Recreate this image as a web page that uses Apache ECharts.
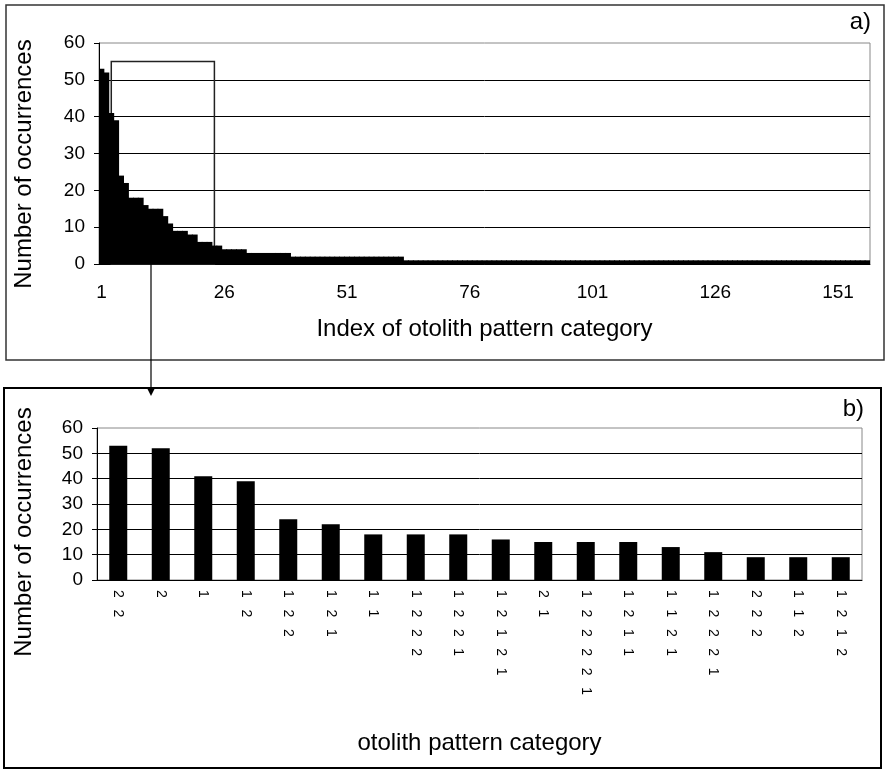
<!DOCTYPE html>
<html><head><meta charset="utf-8">
<script src="https://cdn.jsdelivr.net/npm/echarts@6/dist/echarts.min.js"></script>
<style>html,body{margin:0;padding:0;background:#fff}#c{width:885px;height:771px}</style>
</head><body><div id="c"></div>
<script>
// ---- data ----
const aIndexLabels = Array.from({length:157}, (_, i) => String(i + 1));
const aCounts = [
  53,52,41,39,24,22,18,18,18,16,15,15,15,13,11,9,9,9,8,8,
  6,6,6,5,5,4,4,4,4,4,
  3,3,3,3,3,3,3,3,3,
  2,2,2,2,2,2,2,2,2,2,2,2,2,2,2,2,2,2,2,2,2,2,2,
  1,1,1,1,1,1,1,1,1,1,1,1,1,1,1,1,1,1,1,1,
  1,1,1,1,1,1,1,1,1,1,1,1,1,1,1,1,1,1,1,1,
  1,1,1,1,1,1,1,1,1,1,1,1,1,1,1,1,1,1,1,1,
  1,1,1,1,1,1,1,1,1,1,1,1,1,1,1,1,1,1,1,1,
  1,1,1,1,1,1,1,1,1,1,1,1,1,1,1
];
const bCategories = ["2 2","2","1","1 2","1 2 2","1 2 1","1 1","1 2 2 2","1 2 2 1",
  "1 2 1 2 1","2 1","1 2 2 2 2 1","1 2 1 1","1 1 2 1","1 2 2 2 1","2 2 2","1 1 2","1 2 1 2"];
const bCounts = [53,52,41,39,24,22,18,18,18,16,15,15,15,13,11,9,9,9];
const yMin = 0, yMax = 60, yStep = 10;
// zoom box drawn in panel a): from category index 2 to 23, up to value 55
const boxFromIdx = 2, boxToIdx = 23, boxTop = 55;

const FONT = "'Liberation Sans', Arial, sans-serif";
const black = '#000';

function yAxisCfg(gi) {
  return {
    type: 'value', gridIndex: gi, min: yMin, max: yMax, interval: yStep,
    axisLine: {show: true, lineStyle: {color: black, width: 1}},
    axisTick: {show: true, length: 5, lineStyle: {color: black}},
    splitLine: {show: true, showMaxLine: false, lineStyle: {color: black, width: 1}},
    axisLabel: {color: black, fontSize: 19, fontFamily: FONT, margin: 14}
  };
}

const chart = echarts.init(document.getElementById('c'), null, {renderer: 'canvas'});
const baseGraphics = [
  {type: 'rect', shape: {x: 6, y: 5, width: 878, height: 355}, style: {fill: 'none', stroke: '#333', lineWidth: 1.5}, z: 0},
  {type: 'rect', shape: {x: 4, y: 388, width: 877, height: 380}, style: {fill: 'none', stroke: '#000', lineWidth: 2}, z: 0},
  {type: 'text', x: 871, y: 22, style: {text: 'a)', fontSize: 24, fontFamily: FONT, fill: black, textAlign: 'right', textVerticalAlign: 'middle'}},
  {type: 'text', x: 864, y: 409, style: {text: 'b)', fontSize: 24, fontFamily: FONT, fill: black, textAlign: 'right', textVerticalAlign: 'middle'}},
  {type: 'text', x: 24, y: 164, rotation: Math.PI / 2, style: {text: 'Number of occurrences', fontSize: 24, fontFamily: FONT, fill: black, textAlign: 'center', textVerticalAlign: 'middle'}},
  {type: 'text', x: 24, y: 532, rotation: Math.PI / 2, style: {text: 'Number of occurrences', fontSize: 24, fontFamily: FONT, fill: black, textAlign: 'center', textVerticalAlign: 'middle'}},
  {type: 'line', shape: {x1: 151, y1: 264, x2: 151, y2: 389}, style: {stroke: black, lineWidth: 1.2}, z: 10},
  {type: 'polygon', shape: {points: [[147, 388], [155, 388], [151, 396]]}, style: {fill: black}, z: 10}
];
chart.setOption({
  animation: false,
  backgroundColor: '#fff',
  textStyle: {fontFamily: FONT},
  grid: [
    {left: 99, top: 43, width: 771, height: 221, show: true, borderColor: '#888', borderWidth: 1, backgroundColor: '#fff'},
    {left: 97, top: 428, width: 765, height: 152, show: true, borderColor: '#888', borderWidth: 1, backgroundColor: '#fff'}
  ],
  xAxis: [
    {
      type: 'category', gridIndex: 0, data: aIndexLabels,
      axisLine: {lineStyle: {color: black}},
      axisTick: {interval: 24, length: 5, lineStyle: {color: black}},
      axisLabel: {interval: 24, color: black, fontSize: 19, fontFamily: FONT, margin: 19},
      name: 'Index of otolith pattern category', nameLocation: 'middle', nameGap: 53,
      nameTextStyle: {color: black, fontSize: 24, fontFamily: FONT}
    },
    {
      type: 'category', gridIndex: 1, data: bCategories,
      axisLine: {lineStyle: {color: black}},
      axisTick: {interval: 0, length: 5, lineStyle: {color: black}},
      axisLabel: {interval: 0, rotate: -90, color: black, fontSize: 14, fontFamily: FONT, margin: 10,
        formatter: v => v.split(' ').join('   ')},
      name: 'otolith pattern category', nameLocation: 'middle', nameGap: 151,
      nameTextStyle: {color: black, fontSize: 24, fontFamily: FONT}
    }
  ],
  yAxis: [yAxisCfg(0), yAxisCfg(1)],
  series: [
    {
      type: 'bar', xAxisIndex: 0, yAxisIndex: 0, data: aCounts,
      barWidth: 5.8,
      itemStyle: {color: black},
      z: 5
    },
    {
      type: 'bar', xAxisIndex: 1, yAxisIndex: 1, data: bCounts,
      barWidth: 18, itemStyle: {color: black}, z: 5
    }
  ],
  graphic: baseGraphics
});

// zoom box in panel a), positioned through the chart's own scales
const bx1 = chart.convertToPixel({xAxisIndex: 0}, boxFromIdx);
const bx2 = chart.convertToPixel({xAxisIndex: 0}, boxToIdx);
const by1 = chart.convertToPixel({yAxisIndex: 0}, boxTop);
const by2 = chart.convertToPixel({yAxisIndex: 0}, 0);
chart.setOption({
  graphic: baseGraphics.concat([
    {type: 'rect', z: 1, shape: {x: bx1, y: by1, width: bx2 - bx1, height: by2 - by1},
     style: {fill: 'none', stroke: '#222', lineWidth: 1.5}}
  ])
});
</script></body></html>
